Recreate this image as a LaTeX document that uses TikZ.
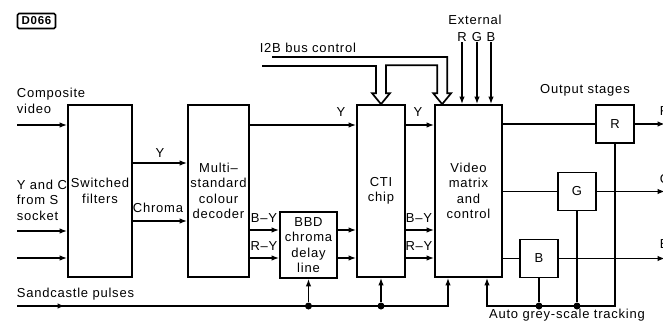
\documentclass[tikz,border=0pt]{standalone}
\usepackage{fontspec}
\setmainfont{Liberation Sans}[LetterSpace=6]
\usetikzlibrary{arrows.meta,positioning,calc}

\begin{document}
\begin{tikzpicture}[
    x=1pt, y=-1pt, line width=1.7pt,
    font=\fontsize{13}{15.5}\selectfont,
    box/.style={draw, line width=1.7pt, align=center, inner sep=0pt},
    lbl/.style={inner sep=0pt, align=left},
    arr/.style={-{Latex[length=7.5pt,width=5.5pt]}},
    dot/.style={circle, fill, inner sep=0pt, minimum size=7pt},
  ]
  \useasboundingbox (0,0) rectangle (663,321);

  \node[draw, line width=1.6pt, rounded corners=1.5pt, minimum width=38pt, minimum height=15pt, inner sep=0pt, font=\bfseries\fontsize{11.5}{12}\selectfont] (code) at (36.5,21) {D066};

  \node[box, minimum width=64pt, minimum height=172pt] (filters) at (100,191) {Switched\\filters};
  \node[box, minimum width=61pt, minimum height=172pt] (decoder) at (218.5,191) {Multi--\\standard\\colour\\decoder};
  \node[box, minimum width=57pt, minimum height=66pt] (bbd) at (308.5,245) {BBD\\chroma\\delay\\line};
  \node[box, minimum width=48pt, minimum height=172pt] (cti) at (381,191) {CTI\\chip};
  \node[box, minimum width=67pt, minimum height=172pt] (matrix) at (468.5,191) {Video\\matrix\\and\\control};
  \node[box, minimum size=38pt] (rout) at (615,124) {R};
  \node[box, minimum size=38pt] (gout) at (577,191.5) {G};
  \node[box, minimum size=38pt] (bout) at (539,258.5) {B};

  \node[lbl, anchor=west] (compvid) at (16,101) {Composite\\video};
  \node[lbl, anchor=west] (ycsock) at (16,200) {Y and C\\from S\\socket};
  \node[lbl, anchor=west] (sand) at (16,294) {Sandcastle pulses};
  \node[lbl, anchor=west] (i2b) at (259,48) {I2B bus control};
  \node[lbl] (ext) at (475,20) {External};
  \node[lbl] (extr) at (462,37) {R};
  \node[lbl] (extg) at (477,37) {G};
  \node[lbl] (extb) at (491,37) {B};
  \node[lbl] (outst) at (585,90) {Output stages};
  \node[lbl] (agst) at (567,315) {Auto grey-scale tracking};

  \coordinate (cvin) at (17,125);
  \coordinate (yin) at (17,231);
  \coordinate (cin) at (17,258);
  \draw[arr] (cvin) -- (cvin -| filters.west);
  \draw[arr] (yin) -- (yin -| filters.west);
  \draw[arr] (cin) -- (cin -| filters.west);

  \draw[arr] (filters.east |- 0,163) -- (decoder.west |- 0,163);
  \draw[arr] (filters.east |- 0,221) -- (decoder.west |- 0,221);
  \node[lbl] (fy) at (160,153) {Y};
  \node[lbl] (fc) at (158,208) {Chroma};

  \draw[arr] (decoder.east |- 0,125) -- (cti.west |- 0,125);
  \draw[arr] (decoder.east |- 0,230) -- (bbd.west |- 0,230);
  \draw[arr] (decoder.east |- 0,258) -- (bbd.west |- 0,258);
  \node[lbl] (dy) at (341,112) {Y};
  \node[lbl] (dby) at (264,218) {B--Y};
  \node[lbl] (dry) at (264,246) {R--Y};

  \draw[arr] (bbd.east |- 0,230) -- (cti.west |- 0,230);
  \draw[arr] (bbd.east |- 0,258) -- (cti.west |- 0,258);

  \draw[arr] (cti.east |- 0,125) -- (matrix.west |- 0,125);
  \draw[arr] (cti.east |- 0,230) -- (matrix.west |- 0,230);
  \draw[arr] (cti.east |- 0,258) -- (matrix.west |- 0,258);
  \node[lbl] (cy) at (418,112) {Y};
  \node[lbl] (cby) at (419,218) {B--Y};
  \node[lbl] (cry) at (419,246) {R--Y};

  \draw[arr] (extr) -- (extr |- matrix.north);
  \draw[arr] (extg) -- (extg |- matrix.north);
  \draw[arr] (extb) -- (extb |- matrix.north);

  \coordinate (busin) at (262,66);
  \coordinate (busout) at (272,57);
  \coordinate (ctitip) at (cti.north);
  \coordinate (mtxtip) at ($(matrix.north west)+(8,0)$);
  \draw (busin) -| ($(ctitip)+(-5,-11)$) -- ++(-4,0) -- (ctitip) -- ++(9,-11) -- ++(-4,0)
    |- ($(mtxtip)+(-5,-39)$) -- ++(0,28) -- ++(-4,0) -- (mtxtip) -- ++(9,-11) -- ++(-4,0) |- (busout);

  \coordinate (edge) at (665,0);
  \draw (matrix.east |- rout) -- (rout);
  \draw (matrix.east |- gout) -- (gout);
  \draw (matrix.east |- bout) -- (bout);
  \draw[arr] (rout.east) -- (rout -| edge);
  \draw[arr] (gout.east) -- (gout -| edge);
  \draw[arr] (bout.east) -- (bout -| edge);
  \node[lbl, anchor=west] (rlab) at (659,111) {R};
  \node[lbl, anchor=west] (glab) at (659,179) {G};
  \node[lbl, anchor=west] (blab) at (659,244) {B};

  \coordinate (fbend) at (487,306);
  \draw[arr] (rout.south) -- (rout.south |- fbend) -- (fbend) -- (fbend |- matrix.south);
  \node[dot] (gdot) at (gout.south |- fbend) {};
  \node[dot] (bdot) at (bout.south |- fbend) {};
  \draw (gout.south) -- (gdot);
  \draw (bout.south) -- (bdot);

  \coordinate (scin) at (17,306);
  \coordinate (scend) at (448,306);
  \draw[arr] (scin) -- (scend) -- (scend |- matrix.south);
  \draw[arr] (scin) -- ++(48,0);
  \node[dot] (bbddot) at (bbd.south |- scin) {};
  \node[dot] (ctidot) at (cti.south |- scin) {};
  \draw[arr] (bbddot) -- (bbd.south);
  \draw[arr] (ctidot) -- (cti.south);
\end{tikzpicture}
\end{document}
